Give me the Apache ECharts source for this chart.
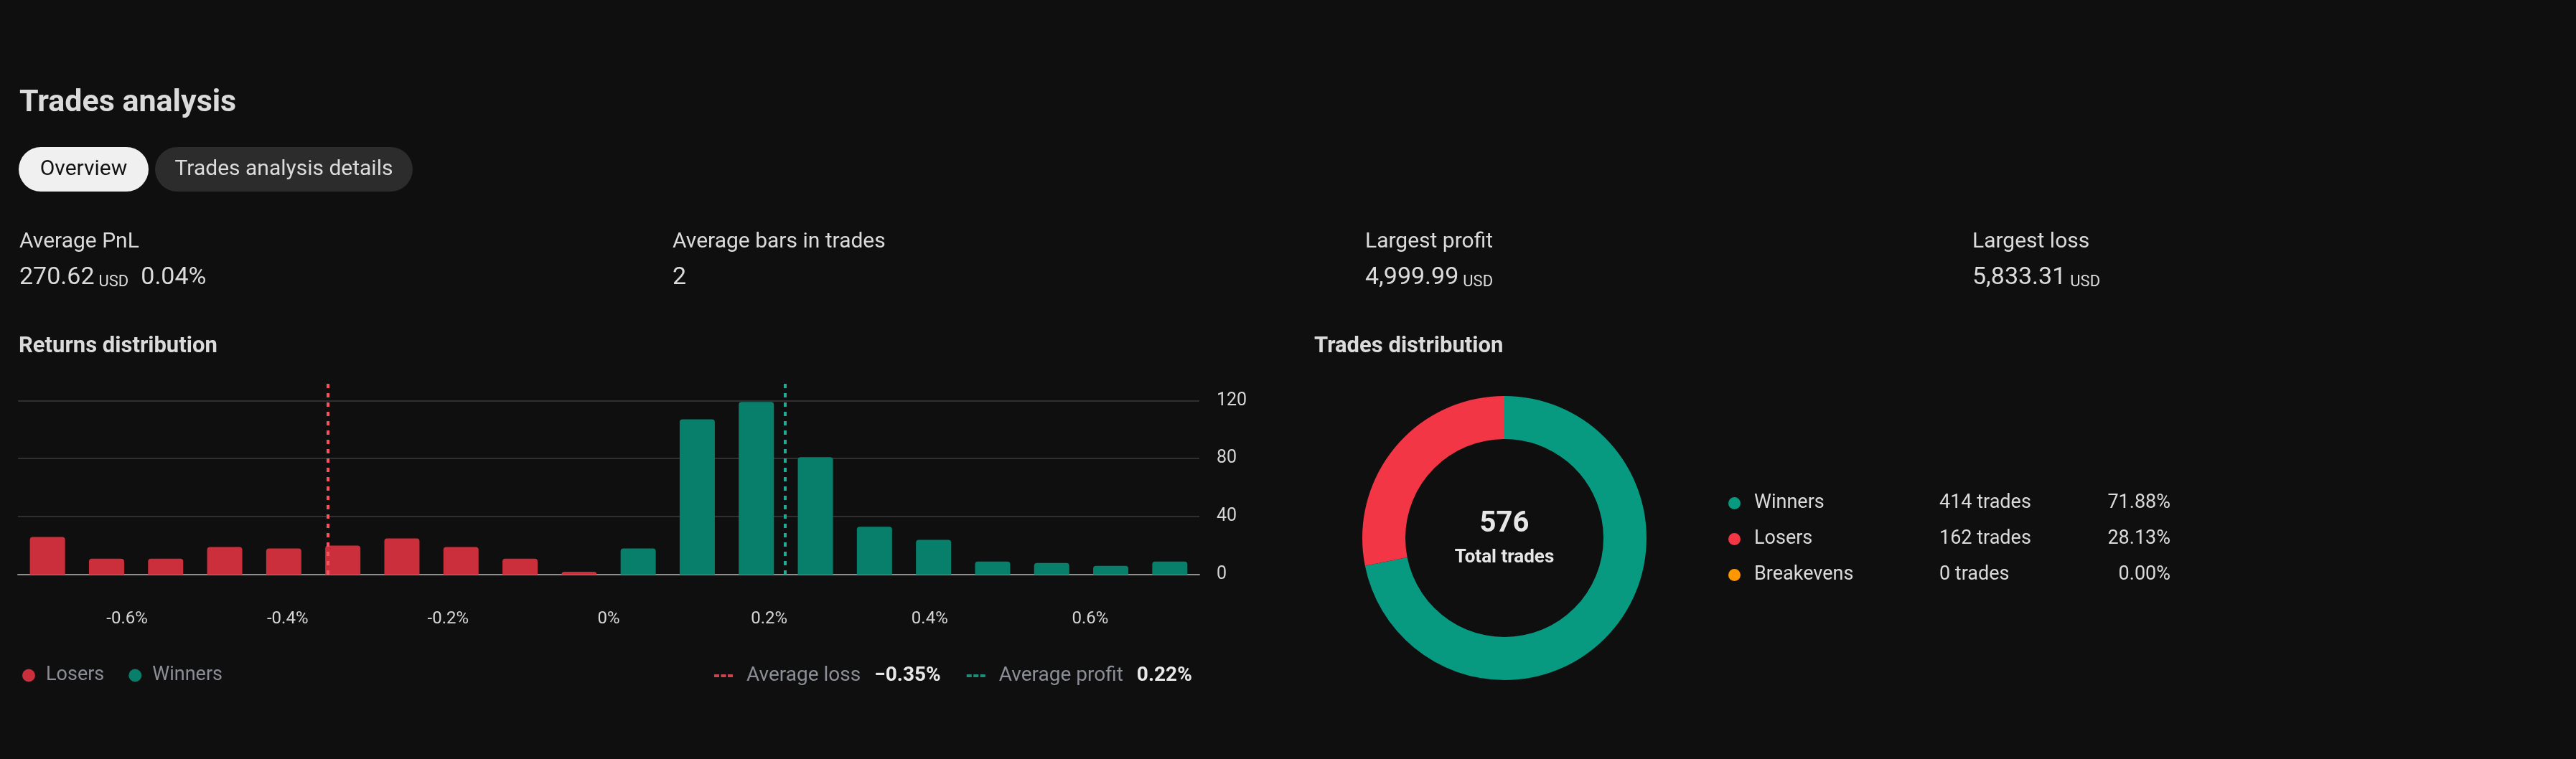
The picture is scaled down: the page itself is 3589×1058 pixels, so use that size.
<!DOCTYPE html>
<html>
<head>
<meta charset="utf-8">
<title>Trades analysis</title>
<script src="https://cdn.jsdelivr.net/npm/echarts@6.0.0/dist/echarts.min.js"></script>
<style>
    html, body {
        margin: 0;
        padding: 0;
        background: #0f0f0f;
    }
    #main {
        width: 3589px;
        height: 1058px;
    }
</style>
</head>
<body>
<div id="main"></div>
<script>
    // returns distribution (bin centre in %, number of trades)
    const loserReturns = [-0.6992, -0.6256, -0.552, -0.4784, -0.4048, -0.3312, -0.2576, -0.184, -0.1104, -0.0368];
    const loserCounts = [26, 11, 11, 19, 18, 20, 25, 19, 11, 2];
    const winnerReturns = [0.0368, 0.1104, 0.184, 0.2576, 0.3312, 0.4048, 0.4784, 0.552, 0.6256, 0.6992];
    const winnerCounts = [18, 107, 119, 81, 33, 24, 9, 8, 6, 9];
    const avgLoss = -0.352;
    const avgProfit = 0.224;

    // trades distribution
    const tradeTypes = ['Winners', 'Losers', 'Breakevens'];
    const tradeCounts = [414, 162, 0];
    const tradePercents = ['71.88%', '28.13%', '0.00%'];
    const totalTrades = 576;

    // header stats
    const statLabels = ['Average PnL', 'Average bars in trades', 'Largest profit', 'Largest loss'];
    const statValues = ['270.62', '2', '4,999.99', '5,833.31'];
    const statUnits = ['USD', '', 'USD', 'USD'];
    const statExtras = ['0.04%', '', '', ''];

    const FONT = 'Roboto, "Noto Sans", sans-serif';
    const RED = '#f23645';
    const TEAL = '#089981';
    const pieColors = [TEAL, RED, '#ff9800'];
    const fmtPct = v => (v < 0 ? '\u2212' : '') + Math.abs(v).toFixed(2) + '%';

    let chartDom = document.getElementById('main');
    let myChart = echarts.init(chartDom);

    // texts and tab pills
    let statX = [27, 937, 1902, 2748];
    let graphics = [
        {
            type: 'text', x: 27, y: 144,
            style: {text: 'Trades analysis', fill: '#dbdbdb', fontSize: 43, fontWeight: 'bold', fontFamily: FONT, verticalAlign: 'middle'}
        },
        {type: 'rect', shape: {x: 26, y: 205, width: 181, height: 62, r: 31}, style: {fill: '#f0f0f0'}},
        {
            type: 'text', x: 116.5, y: 236,
            style: {text: 'Overview', fill: '#131313', fontSize: 30, fontFamily: FONT, align: 'center', verticalAlign: 'middle'}
        },
        {type: 'rect', shape: {x: 216, y: 205, width: 359, height: 62, r: 31}, style: {fill: '#2c2c2c'}},
        {
            type: 'text', x: 395.5, y: 236,
            style: {text: 'Trades analysis details', fill: '#dbdbdb', fontSize: 30, fontFamily: FONT, align: 'center', verticalAlign: 'middle'}
        },
        {
            type: 'text', x: 26, y: 483,
            style: {text: 'Returns distribution', fill: '#dbdbdb', fontSize: 31, fontWeight: 'bold', fontFamily: FONT, verticalAlign: 'middle'}
        },
        {
            type: 'text', x: 1831, y: 483,
            style: {text: 'Trades distribution', fill: '#dbdbdb', fontSize: 31, fontWeight: 'bold', fontFamily: FONT, verticalAlign: 'middle'}
        },
        {
            type: 'text', x: 2096, y: 731,
            style: {text: String(totalTrades), fill: '#e6e6e6', fontSize: 40, fontWeight: 'bold', fontFamily: FONT, align: 'center', verticalAlign: 'middle'}
        },
        {
            type: 'text', x: 2096, y: 777,
            style: {text: 'Total trades', fill: '#e6e6e6', fontSize: 26, fontWeight: 'bold', fontFamily: FONT, align: 'center', verticalAlign: 'middle'}
        }
    ];

    statLabels.forEach((label, i) => {
        graphics.push({
            type: 'text', x: statX[i], y: 337,
            style: {text: label, fill: '#dbdbdb', fontSize: 30, fontFamily: FONT, verticalAlign: 'middle'}
        });
        let txt = '{v|' + statValues[i] + '}';
        if (statUnits[i]) txt += '{u|' + statUnits[i] + '}';
        if (statExtras[i]) txt += '{w|' + statExtras[i] + '}';
        graphics.push({
            type: 'text', x: statX[i], y: 387,
            style: {
                text: txt, fill: '#dbdbdb', fontFamily: FONT, verticalAlign: 'middle',
                rich: {
                    v: {fontSize: 34, lineHeight: 34, fontFamily: FONT, fill: '#dbdbdb', verticalAlign: 'bottom'},
                    u: {fontSize: 22, lineHeight: 26, fontFamily: FONT, fill: '#dbdbdb', verticalAlign: 'bottom', padding: [0, 0, 0, 6]},
                    w: {fontSize: 34, lineHeight: 34, fontFamily: FONT, fill: '#dbdbdb', verticalAlign: 'bottom', padding: [0, 0, 0, 17]}
                }
            }
        });
    });

    let dashIcon = 'path://M0,0h7v4h-7z M9.5,0h7v4h-7z M19,0h7v4h-7z';

    let option = {
        backgroundColor: '#0f0f0f',
        animation: false,
        textStyle: {fontFamily: FONT},
        graphic: graphics,
        grid: {
            left: 25,
            right: 1918,
            top: 530,
            bottom: 257,
            outerBoundsMode: 'none'
        },
        xAxis: {
            type: 'value',
            min: -0.736,
            max: 0.736,
            splitNumber: 7,
            axisLine: {show: true, onZero: false, lineStyle: {color: '#8f8f8f', width: 2}},
            axisTick: {show: false},
            splitLine: {show: false},
            axisLabel: {
                formatter: '{value}%',
                showMinLabel: false,
                showMaxLabel: false,
                margin: 50,
                color: '#d6d6d6',
                fontSize: 24,
                lineHeight: 24,
                fontFamily: FONT
            }
        },
        yAxis: {
            type: 'value',
            position: 'right',
            min: 0,
            max: 134,
            interval: 40,
            axisLine: {show: false},
            axisTick: {show: false},
            axisLabel: {
                showMaxLabel: false,
                margin: 24,
                color: '#d6d6d6',
                fontSize: 25,
                fontFamily: FONT
            },
            splitLine: {
                show: true,
                showMaxLine: false,
                lineStyle: {color: ['#2f2f2f', '#2f2f2f', '#2f2f2f', '#2f2f2f', 'rgba(0,0,0,0)'], width: 2}
            }
        },
        legend: [
            {
                left: 26,
                top: 923,
                itemWidth: 18,
                itemHeight: 18,
                itemGap: 34,
                selectedMode: false,
                data: [
                    {name: 'Losers', icon: 'circle', itemStyle: {color: '#cb2f3c'}},
                    {name: 'Winners', icon: 'circle', itemStyle: {color: '#087f6b'}}
                ],
                formatter: name => '{n|' + name + '}',
                textStyle: {
                    rich: {
                        n: {color: '#8b8e96', fontSize: 27, lineHeight: 30, fontFamily: FONT, padding: [0, 0, 0, 10]}
                    }
                }
            },
            {
                left: 990,
                top: 923,
                itemWidth: 26,
                itemHeight: 4,
                itemGap: 36,
                selectedMode: false,
                data: [
                    {name: 'Average loss', icon: dashIcon, itemStyle: {color: '#f7525f'}},
                    {name: 'Average profit', icon: dashIcon, itemStyle: {color: '#22ab94'}}
                ],
                formatter: name => '{n|' + name + '}{v|' + fmtPct(name === 'Average loss' ? avgLoss : avgProfit) + '}',
                textStyle: {
                    rich: {
                        n: {color: '#8b8e96', fontSize: 28, lineHeight: 30, fontFamily: FONT, padding: [0, 0, 0, 14]},
                        v: {color: '#e8e8e8', fontSize: 28, lineHeight: 30, fontWeight: 'bold', fontFamily: FONT, padding: [0, 0, 0, 19]}
                    }
                }
            },
            {
                left: 2403,
                top: 683,
                orient: 'vertical',
                itemWidth: 17,
                itemHeight: 17,
                itemGap: 23,
                selectedMode: false,
                data: tradeTypes.map((n, i) => ({name: n, icon: 'circle', itemStyle: {color: pieColors[i]}})),
                formatter: name => {
                    let i = tradeTypes.indexOf(name);
                    return '{n|' + name + '}{c|' + tradeCounts[i] + ' trades}{p|' + tradePercents[i] + '}';
                },
                textStyle: {
                    rich: {
                        n: {color: '#dbdbdb', fontSize: 27, lineHeight: 30, fontFamily: FONT, width: 258, padding: [0, 0, 0, 14]},
                        c: {color: '#dbdbdb', fontSize: 27, lineHeight: 30, fontFamily: FONT, width: 200},
                        p: {color: '#dbdbdb', fontSize: 27, lineHeight: 30, fontFamily: FONT, width: 122, align: 'right'}
                    }
                }
            }
        ],
        series: [
            {
                name: 'Losers',
                type: 'bar',
                data: loserReturns.map((x, i) => [x, loserCounts[i]]),
                barWidth: 49,
                barGap: '-100%',
                silent: true,
                itemStyle: {color: '#cb2f3c', borderRadius: [4, 4, 0, 0]}
            },
            {
                name: 'Winners',
                type: 'bar',
                data: winnerReturns.map((x, i) => [x, winnerCounts[i]]),
                barWidth: 49,
                barGap: '-100%',
                silent: true,
                itemStyle: {color: '#087f6b', borderRadius: [4, 4, 0, 0]}
            },
            {
                name: 'Average loss',
                type: 'scatter',
                data: [],
                z: 5,
                itemStyle: {color: '#f7525f'},
                markLine: {
                    silent: true,
                    symbol: ['none', 'none'],
                    label: {show: false},
                    lineStyle: {color: '#f7525f', width: 4, type: [6, 7]},
                    data: [{xAxis: avgLoss}]
                }
            },
            {
                name: 'Average profit',
                type: 'scatter',
                data: [],
                z: 5,
                itemStyle: {color: '#22ab94'},
                markLine: {
                    silent: true,
                    symbol: ['none', 'none'],
                    label: {show: false},
                    lineStyle: {color: '#22ab94', width: 4, type: [6, 7]},
                    data: [{xAxis: avgProfit}]
                }
            },
            {
                name: 'Trades distribution',
                type: 'pie',
                center: [2096, 750],
                radius: [138, 198],
                startAngle: 90,
                clockwise: true,
                silent: true,
                label: {show: false},
                labelLine: {show: false},
                itemStyle: {borderWidth: 0},
                emphasis: {disabled: true},
                data: tradeTypes.map((n, i) => ({name: n, value: tradeCounts[i], itemStyle: {color: pieColors[i]}}))
            }
        ]
    };

    option && myChart.setOption(option);
</script>
</body>
</html>
